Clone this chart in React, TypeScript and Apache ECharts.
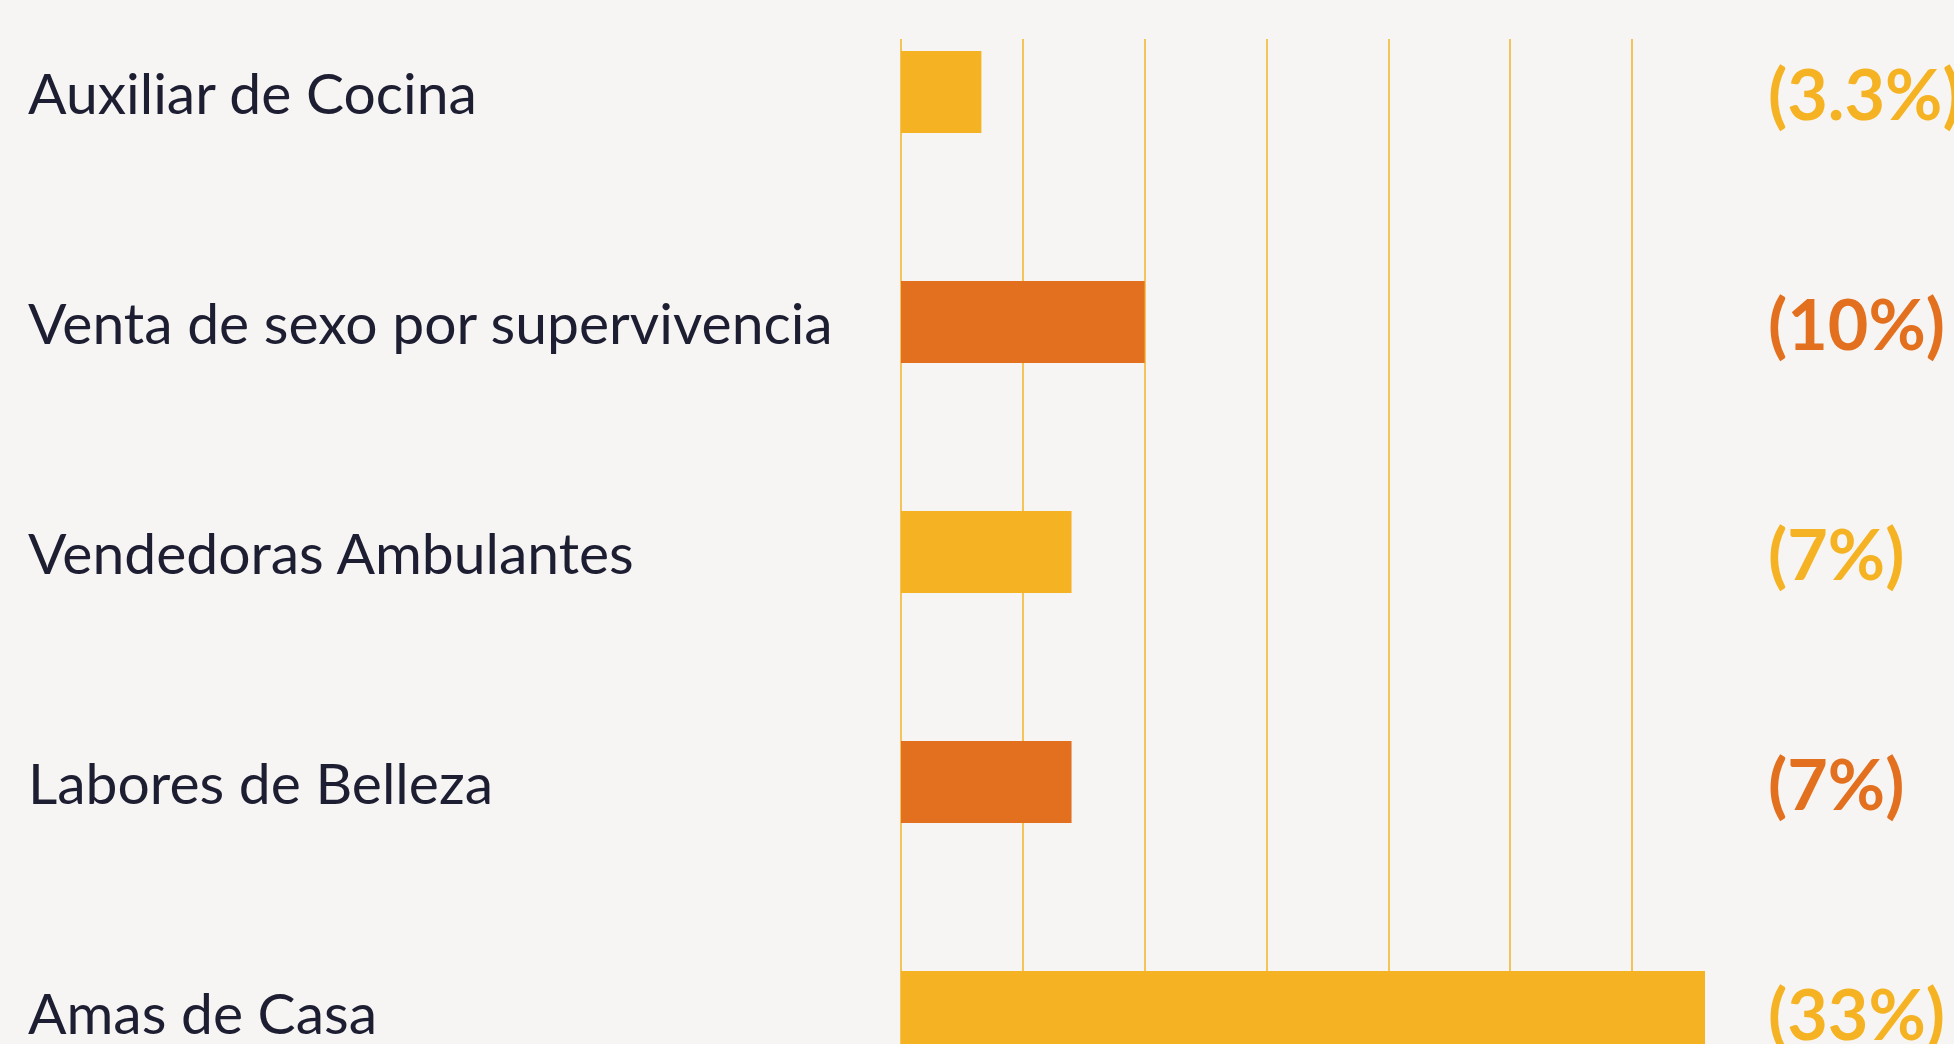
import React, { useEffect, useRef } from "react";
import * as echarts from "echarts";

const categories = [
  "Auxiliar de Cocina",
  "Venta de sexo por supervivencia",
  "Vendedoras Ambulantes",
  "Labores de Belleza",
  "Amas de Casa",
];
const values = [3.3, 10, 7, 7, 33];
const xMin = 0;
const xMax = 33;
const xInterval = 5;

const YELLOW = "#F5B324";
const ORANGE = "#E2701F";
const palette = [YELLOW, ORANGE];
const TEXT = "#1E1E32";
const BG = "#F6F5F3";

export default function App() {
  const ref = useRef<HTMLDivElement>(null);
  useEffect(() => {
    const chart = echarts.init(ref.current!, null, { renderer: "svg" });
    const left = 901;
    const right = 249;
    chart.setOption({
      animation: false,
      backgroundColor: BG,
      grid: [
        { left, right, top: 39, bottom: 0, outerBoundsMode: "none" },
        { left, right, top: -23, height: 1150, outerBoundsMode: "none" },
      ],
      xAxis: [
        {
          type: "value",
          gridIndex: 0,
          min: xMin,
          max: xMax,
          interval: xInterval,
          axisLine: { show: false },
          axisTick: { show: false },
          axisLabel: { show: false },
          splitLine: {
            show: true,
            showMinLine: true,
            showMaxLine: false,
            lineStyle: { color: YELLOW, width: 1.5 },
          },
        },
        {
          type: "value",
          gridIndex: 1,
          min: xMin,
          max: xMax,
          show: false,
          splitLine: { show: false },
        },
      ],
      yAxis: [
        { type: "value", gridIndex: 0, show: false, splitLine: { show: false } },
        {
          type: "category",
          gridIndex: 1,
          data: categories,
          inverse: true,
          axisLine: { show: false },
          axisTick: { show: false },
          splitLine: { show: false },
          axisLabel: {
            interval: 0,
            margin: 873,
            align: "left",
            fontSize: 57,
            fontFamily: "Lato, 'Open Sans', sans-serif",
            color: TEXT,
            padding: [36, 0, 0, 0],
          },
        },
        {
          type: "category",
          gridIndex: 1,
          position: "right",
          data: categories,
          inverse: true,
          axisLine: { show: false },
          axisTick: { show: false },
          splitLine: { show: false },
          axisLabel: {
            interval: 0,
            margin: 63,
            align: "left",
            padding: [2, 0, 0, 0],
            formatter: (_v: string, i: number) => `{c${i % 2}|(${values[i]}%)}`,
            rich: {
              c0: { color: YELLOW, fontSize: 70, fontWeight: "bold", fontFamily: "Lato, 'Open Sans', sans-serif" },
              c1: { color: ORANGE, fontSize: 70, fontWeight: "bold", fontFamily: "Lato, 'Open Sans', sans-serif" },
            },
          },
        },
      ],
      series: [
        {
          type: "bar",
          xAxisIndex: 1,
          yAxisIndex: 1,
          barWidth: 82,
          data: values.map((v, i) => ({ value: v, itemStyle: { color: palette[i % 2] } })),
        },
      ],
    });
    return () => chart.dispose();
  }, []);
  return (
    <div
      ref={ref}
      style={{ position: "fixed", left: 0, top: 0, width: 1954, height: 1044 }}
    />
  );
}
